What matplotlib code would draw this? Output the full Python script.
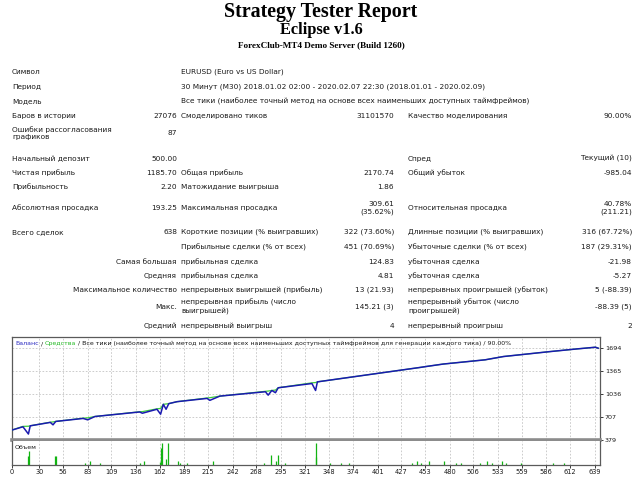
import matplotlib
matplotlib.use("Agg")
import matplotlib.pyplot as plt

# ---- report text -------------------------------------------------------
TITLE = "Strategy Tester Report"
EXPERT = "Eclipse v1.6"
SERVER = "ForexClub-MT4 Demo Server (Build 1260)"

head_labels = ["Символ", "Период", "Модель"]
head_values = ["EURUSD (Euro vs US Dollar)",
               "30 Минут (M30) 2018.01.02 02:00 - 2020.02.07 22:30 (2018.01.01 - 2020.02.09)",
               "Все тики (наиболее точный метод на основе всех наименьших доступных таймфреймов)"]

# label1, value1, label2, value2, label3, value3
stat_rows = [
    ["Баров в истории", "27076", "Смоделировано тиков", "31101570", "Качество моделирования", "90.00%"],
    ["Ошибки рассогласования\nграфиков", "87", "", "", "", ""],
    ["Начальный депозит", "500.00", "", "", "Спред", "Текущий (10)"],
    ["Чистая прибыль", "1185.70", "Общая прибыль", "2170.74", "Общий убыток", "-985.04"],
    ["Прибыльность", "2.20", "Матожидание выигрыша", "1.86", "", ""],
    ["Абсолютная просадка", "193.25", "Максимальная просадка", "309.61\n(35.62%)",
     "Относительная просадка", "40.78%\n(211.21)"],
    ["Всего сделок", "638", "Короткие позиции (% выигравших)", "322 (73.60%)",
     "Длинные позиции (% выигравших)", "316 (67.72%)"],
    ["", "", "Прибыльные сделки (% от всех)", "451 (70.69%)",
     "Убыточные сделки (% от всех)", "187 (29.31%)"],
    ["Самая большая", "", "прибыльная сделка", "124.83", "убыточная сделка", "-21.98"],
    ["Средняя", "", "прибыльная сделка", "4.81", "убыточная сделка", "-5.27"],
    ["Максимальное количество", "", "непрерывных выигрышей (прибыль)", "13 (21.93)",
     "непрерывных проигрышей (убыток)", "5 (-88.39)"],
    ["Макс.", "", "непрерывная прибыль (число\nвыигрышей)", "145.21 (3)",
     "непрерывный убыток (число\nпроигрышей)", "-88.39 (5)"],
    ["Средний", "", "непрерывный выигрыш", "4", "непрерывный проигрыш", "2"],
]
right_label_rows = {"Самая большая", "Средняя", "Максимальное количество", "Макс.", "Средний"}

# ---- balance / equity curve (trade number, deposit currency) ----------
trades = [0, 12, 18, 20, 42, 45, 48, 78, 83, 91, 140, 143, 159, 163, 166, 169, 172,
          181, 214, 217, 228, 278, 281, 285, 289, 292, 329, 333, 335, 448, 455, 473,
          519, 539, 590, 620, 640, 643]
balance = [517, 564, 460, 578, 627, 592, 641, 684, 664, 712, 777, 759, 816, 745, 887,
           816, 897, 925, 972, 944, 1005, 1068, 1019, 1086, 1054, 1125, 1186, 1086, 1210,
           1418, 1432, 1466, 1527, 1574, 1645, 1684, 1708, 1694]
equity = [517, 570, 572, 578, 630, 634, 641, 688, 692, 712, 780, 782, 822, 828, 887,
          892, 897, 925, 978, 982, 1005, 1074, 1078, 1086, 1092, 1125, 1196, 1200, 1210,
          1418, 1432, 1466, 1527, 1574, 1645, 1684, 1708, 1694]

vol_trades = [18, 19, 47, 48, 80, 86, 96, 140, 145, 162, 163, 165, 169, 171, 182, 184,
              192, 220, 276, 284, 290, 292, 299, 333, 334, 349, 361, 370, 439, 444, 449,
              457, 474, 487, 493, 513, 521, 526, 537, 542, 558, 593, 605]
vol_values = [9, 14, 9, 9, 2, 4, 2, 2, 4, 3, 17, 22, 6, 22, 4, 2,
              2, 4, 2, 10, 4, 10, 2, 8, 22, 2, 2, 2, 2, 4, 2,
              4, 4, 2, 2, 2, 4, 2, 4, 2, 2, 2, 2]

x_ticks = [0, 30, 56, 83, 109, 136, 162, 189, 215, 242, 268, 295, 321, 348, 374, 401,
           427, 453, 480, 506, 533, 559, 586, 612, 639]
y_ticks = [379, 707, 1036, 1365, 1694]

W, H = 640, 480
FONT = "DejaVu Sans"
FS = 5.3
INK = "#1a1a1a"

fig = plt.figure(figsize=(6.4, 4.8), dpi=100)


def px(x, y, s, ha="left", **kw):
    kw.setdefault("fontsize", FS)
    kw.setdefault("color", INK)
    kw.setdefault("family", FONT)
    fig.text(x / W, 1 - y / H, s, ha=ha, va=kw.pop("va", "center"),
             linespacing=1.25, **kw)


# titles
px(321, 17, TITLE, ha="center", va="baseline", fontsize=14.4, family="Liberation Serif",
   weight="bold", color="black")
px(321, 34, EXPERT, ha="center", va="baseline", fontsize=11.8, family="Liberation Serif",
   weight="bold", color="black")
px(321, 47.5, SERVER, ha="center", va="baseline", fontsize=6.6, family="Liberation Serif",
   weight="bold", color="black")

# column anchors
C1, V1, C2, V2, C3, V3 = 12, 177, 181, 394, 408, 632
head_y = [72, 87, 101]
for lab, val, y in zip(head_labels, head_values, head_y):
    px(C1, y, lab)
    px(C2, y, val)

row_y = [116, 133, 159, 173, 187, 208, 232, 247, 262, 276, 290, 307, 326]
for row, y in zip(stat_rows, row_y):
    l1, v1, l2, v2, l3, v3 = row
    if l1 in right_label_rows:
        px(V1, y, l1, ha="right")
    else:
        px(C1, y, l1)
    px(V1, y, v1, ha="right", multialignment="right")
    px(C2, y, l2)
    px(V2, y, v2, ha="right", multialignment="right")
    px(C3, y, l3)
    px(V3, y, v3, ha="right", multialignment="right")

# ---- chart -------------------------------------------------------------
L, R = 12 / W, 600 / W
ax = fig.add_axes([L, 1 - 440 / H, R - L, 103 / H])
axv = fig.add_axes([L, 1 - 465 / H, R - L, 24 / H], sharex=ax)

grid_kw = dict(color="#c4c4c4", lw=0.6, ls=(0, (2, 2)))
ax.plot(trades, equity, color="#3ccc3c", lw=0.9, zorder=3)
ax.plot(trades, balance, color="#1a1ab0", lw=1.1, zorder=4)
ax.set_xlim(0, 645)
ax.set_ylim(374, 1855)
ax.set_xticks(x_ticks)
ax.set_yticks(y_ticks)
ax.grid(True, **grid_kw)
ax.yaxis.tick_right()
ax.tick_params(axis="y", labelsize=4.6, length=2, width=0.6, pad=1.5, colors=INK)
ax.tick_params(axis="x", labelbottom=False, length=0)

axv.vlines(vol_trades, 0, vol_values, color="#12b412", lw=0.9)
axv.set_ylim(0, 24)
axv.set_yticks([])
axv.xaxis.grid(True, **grid_kw)
axv.tick_params(axis="x", labelsize=4.8, length=2, width=0.6, pad=1.2, colors=INK)
for lab in axv.get_xticklabels():
    lab.set_family(FONT)
for lab in ax.get_yticklabels():
    lab.set_family(FONT)

for a in (ax, axv):
    for s in a.spines.values():
        s.set_color("#5a5a5a")
        s.set_linewidth(0.9)
ax.spines["bottom"].set_color("#8c8c8c")
ax.spines["bottom"].set_linewidth(2.6)
axv.spines["top"].set_visible(False)

# chart header in three colours
hdr = [("Баланс", "#2828c0"), (" / ", INK), ("Средства", "#22b822"),
       (" / Все тики (наиболее точный метод на основе всех наименьших доступных "
        "таймфреймов для генерации каждого тика) / 90.00%", INK)]
prev = ax.text(3 / 588, 1 - 9 / 103, hdr[0][0], transform=ax.transAxes, color=hdr[0][1],
               fontsize=4.5, family=FONT, va="bottom")
for s, c in hdr[1:]:
    prev = ax.annotate(s, xy=(1, 0), xycoords=prev, color=c, fontsize=4.5,
                       family=FONT, va="bottom")

axv.text(3 / 588, 0.72, "Объем", transform=axv.transAxes, fontsize=4.5,
         family=FONT, color=INK, va="center")

fig.savefig("out.png", dpi=100, facecolor="white")
